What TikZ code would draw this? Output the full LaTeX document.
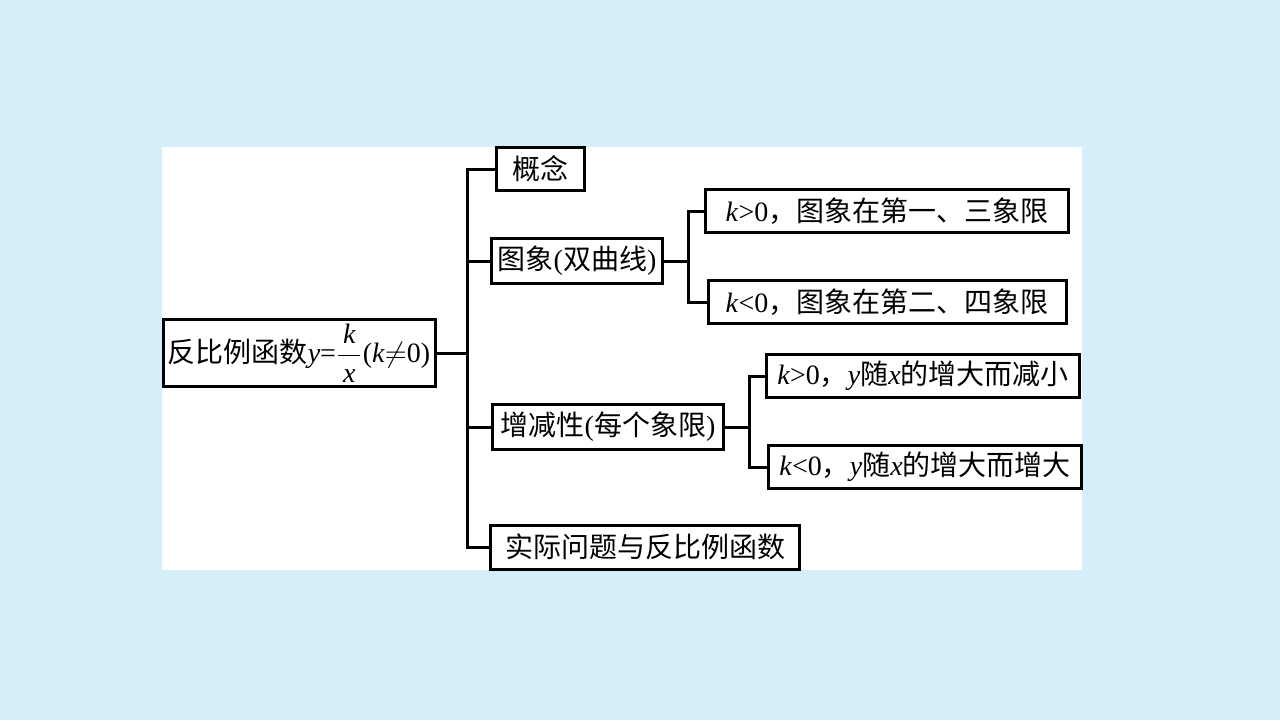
\documentclass[tikz,border=0pt]{standalone}
\usepackage{amsmath}
\usepackage{fontspec}
\setmainfont{Liberation Serif}
\newfontfamily\cjk{Noto Sans CJK SC}
\usepackage{xcolor}
\usepackage{tikz}
\usetikzlibrary{positioning,calc}
\definecolor{bgblue}{RGB}{214,238,249}

\begin{document}
\begin{tikzpicture}[
  x=0.5pt, y=-0.5pt,
  box/.style={draw, line width=1.5pt, fill=white, minimum height=21.5pt,
              inner xsep=3pt, inner ysep=2pt,
              font=\fontsize{14pt}{16pt}\selectfont},
  link/.style={line width=1.5pt, line join=miter}
]
\useasboundingbox[fill=bgblue] (0,0) rectangle (1280,720);
\fill[white] (162,147) rectangle (1082,570);

\node[box, minimum width=136pt, minimum height=28.5pt, inner xsep=0.5pt] (root) at (299,353)
  {{\cjk 反比例函数}\textit{y}=$\dfrac{\,\textit{k}\,}{\,\textit{x}\,}$(\textit{k}$\neq$0)};
\node[box, minimum width=44pt] (concept) at (540,169) {\cjk 概念};
\node[box, minimum width=84.5pt, minimum height=22.5pt] (graph) at (577,261)
  {{\cjk 图象}({\cjk 双曲线})};
\node[box, minimum width=181.5pt] (gpos) at (887,211)
  {\textit{k}>0{\cjk ，图象在第一、三象限}};
\node[box, minimum width=179pt] (gneg) at (887,302)
  {\textit{k}<0{\cjk ，图象在第二、四象限}};
\node[box, minimum width=115.5pt, minimum height=22.5pt] (mono) at (608,427)
  {{\cjk 增减性}({\cjk 每个象限})};
\node[box, minimum width=156.5pt] (mpos) at (923,376)
  {\textit{k}>0{\cjk ，}\textit{y}{\cjk 随}\textit{x}{\cjk 的增大而减小}};
\node[box, minimum width=156.5pt] (mneg) at (925,467)
  {\textit{k}<0{\cjk ，}\textit{y}{\cjk 随}\textit{x}{\cjk 的增大而增大}};
\node[box, minimum width=154.5pt, minimum height=22pt] (apply) at (645,547)
  {\cjk 实际问题与反比例函数};

\coordinate (trunk) at (467,353);
\coordinate (gfork) at (688,261);
\coordinate (mfork) at (749,427);

\draw[link] (root.east) -- (trunk);
\draw[link] (trunk) |- (concept.west);
\draw[link] (trunk) |- (graph.west);
\draw[link] (trunk) |- (mono.west);
\draw[link] (trunk) |- (apply.west);
\draw[link] (graph.east) -- (gfork);
\draw[link] (gfork) |- (gpos.west);
\draw[link] (gfork) |- (gneg.west);
\draw[link] (mono.east) -- (mfork);
\draw[link] (mfork) |- (mpos.west);
\draw[link] (mfork) |- (mneg.west);
\end{tikzpicture}
\end{document}
